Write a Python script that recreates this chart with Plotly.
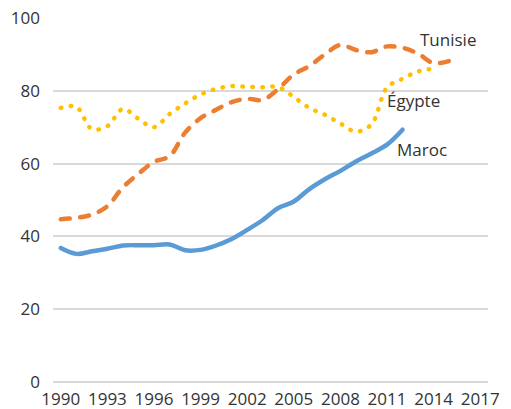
import plotly.graph_objects as go

years = list(range(1990, 2018))
maroc = [36.8, 35.2, 35.9, 36.6, 37.5, 37.6, 37.6, 37.8, 36.2, 36.3, 37.5, 39.3,
         41.8, 44.5, 47.8, 49.6, 53.0, 55.7, 58.0, 60.6, 62.8, 65.2, 69.3]
tunisie = [44.7, 45.1, 46.0, 48.3, 53.5, 57.2, 60.5, 62.0, 68.5, 72.5, 74.8, 76.9,
           77.8, 77.5, 80.5, 84.5, 86.8, 90.0, 92.6, 91.2, 90.6, 92.2, 91.8, 90.2,
           87.6, 88.2]
egypte = [75.3, 75.6, 69.5, 70.3, 75.0, 72.3, 70.0, 73.6, 76.5, 79.0, 80.5, 81.3,
          81.1, 81.0, 81.0, 78.3, 75.3, 73.4, 71.0, 68.8, 70.8, 80.9, 83.3, 85.3,
          86.1]
x_ticks = [1990, 1993, 1996, 1999, 2002, 2005, 2008, 2011, 2014, 2017]
y_ticks = [0, 20, 40, 60, 80, 100]

FONT = "Open Sans"
TXT = "#333333"

fig = go.Figure()
fig.add_trace(go.Scatter(x=years[:len(egypte)], y=egypte, mode="lines", name="Égypte",
                         line=dict(color="#FFC000", width=4.5, dash="0.5px,9.5px",
                                   shape="spline", smoothing=1)))
fig.add_trace(go.Scatter(x=years[:len(tunisie)], y=tunisie, mode="lines", name="Tunisie",
                         line=dict(color="#ED7D31", width=4.5, dash="9px,10.5px",
                                   shape="spline", smoothing=1)))
fig.add_trace(go.Scatter(x=years[:len(maroc)], y=maroc, mode="lines", name="Maroc",
                         line=dict(color="#5B9BD5", width=4.5, shape="spline", smoothing=1)))

labels = [("Tunisie", 2014.95, 94.0), ("Égypte", 2012.7, 77.2), ("Maroc", 2013.28, 63.8)]
for t, xx, yy in labels:
    fig.add_annotation(x=xx, y=yy, text=t, showarrow=False,
                       font=dict(family=FONT, size=17, color=TXT))

fig.update_layout(
    width=511, height=409,
    margin=dict(l=53, r=23, t=18, b=27),
    paper_bgcolor="white", plot_bgcolor="white",
    showlegend=False,
    font=dict(family=FONT, size=17, color=TXT),
    xaxis=dict(range=[1989.5, 2017.5], tickvals=x_ticks, showgrid=False,
               showline=False, zeroline=False, ticks="", tickfont=dict(size=17),
               ticklabelstandoff=5, automargin=False),
    yaxis=dict(range=[0, 100], tickvals=y_ticks, showgrid=True, gridcolor="#D9D9D9",
               gridwidth=2, zeroline=True, zerolinecolor="#D9D9D9", zerolinewidth=2,
               ticks="", ticklabelstandoff=12, tickfont=dict(size=17),
               automargin=False),
)
post = ("document.body.style.margin='0';"
        "document.querySelectorAll('.scatterlayer path.js-line')"
        ".forEach(function(p){p.style.strokeLinecap='round';});")
fig.write_html("out.html", post_script=post, config={"displayModeBar": False})
